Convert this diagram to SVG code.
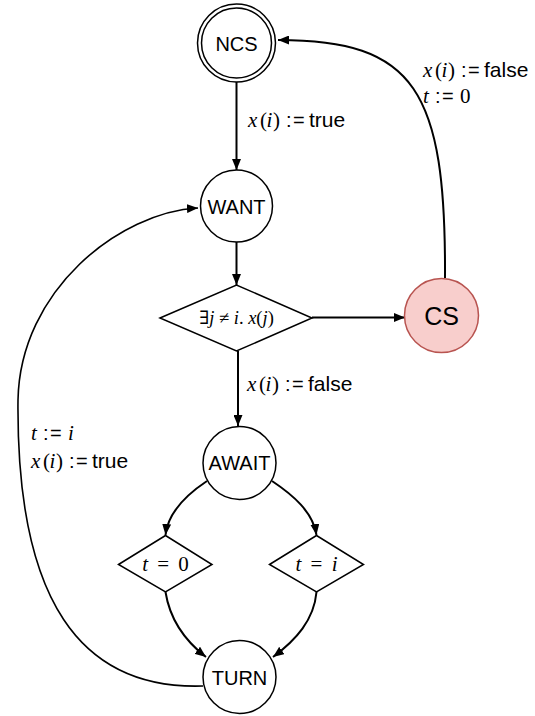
<svg xmlns="http://www.w3.org/2000/svg" width="535" height="716" viewBox="0 0 535 716">
<defs>
<marker id="arr" markerUnits="userSpaceOnUse" markerWidth="12" markerHeight="9" refX="11" refY="4.5" orient="auto">
<path d="M0,0 L11,4.5 L0,9 z" fill="#000"/>
</marker>
<style>
.node{fill:#fff;stroke:#000;stroke-width:1.5}
.cs{fill:#f8cecc;stroke:#b85450;stroke-width:1.5}
.dia{fill:#fff;stroke:#000;stroke-width:1.5}
.lbl{font-family:"Liberation Sans",Arial,sans-serif;font-size:20px;fill:#000;text-anchor:middle}
.edge{fill:none;stroke:#000;stroke-width:2;marker-end:url(#arr)}
.thin{stroke-width:1.6}
.m{font-family:"Liberation Serif","DejaVu Serif",serif;font-size:21px;fill:#000}
.mi{font-style:italic}
.op{font-family:"Liberation Sans",Arial,sans-serif;font-size:20px}
.s{font-family:"Liberation Sans",Arial,sans-serif;font-size:21px;font-style:normal}
.dm{font-family:"Liberation Serif","DejaVu Serif",serif;font-size:18.5px;fill:#000;text-anchor:middle}
</style>
</defs>
<rect width="535" height="716" fill="#fff"/>

<g id="connectors">
<path class="edge" d="M236.5,82 L236.5,170"/>
<path class="edge" d="M236.5,242 L236.5,285"/>
<path class="edge" d="M312,317.5 L405,317.5"/>
<path class="edge" d="M238,351 L238,426"/>
<path class="edge" d="M445,278 C446,90 415,40 278,40"/>
<path class="edge" d="M207,481 C186,495 168,512 165.5,535"/>
<path class="edge" d="M272,481 C293,495 313,512 316.5,535"/>
<path class="edge" d="M165.5,592 C170,620 184,640 206,657"/>
<path class="edge" d="M316.5,592 C314,620 296,640 273,657"/>
<path class="edge thin" d="M203,686 C80,690 16,600 18,400 C20,290 120,212 198,208"/>
</g>

<g id="node-ncs">
<circle class="node" cx="236.5" cy="43" r="39"/>
<circle class="node" cx="236.5" cy="43" r="35"/>
<text class="lbl" x="236.5" y="50.5">NCS</text>
</g>
<g id="node-want">
<circle class="node" cx="236.5" cy="206" r="36"/>
<text class="lbl" x="236.5" y="213.5">WANT</text>
</g>
<g id="node-check">
<polygon class="dia" points="160,318 236.5,285 312,318 236.5,351"/>
<text class="dm" x="236.5" y="324">∃<tspan class="mi">j</tspan> ≠ <tspan class="mi">i</tspan>. <tspan class="mi">x</tspan>(<tspan class="mi">j</tspan>)</text>
</g>
<g id="node-cs">
<circle class="cs" cx="441.5" cy="315.5" r="37"/>
<text class="lbl" x="441.5" y="324.5" style="font-size:25px">CS</text>
</g>
<g id="node-await">
<circle class="node" cx="239.5" cy="463" r="36.5"/>
<text class="lbl" x="239.5" y="470">AWAIT</text>
</g>
<g id="node-t0">
<polygon class="dia" points="118.5,564.5 165.5,535.5 212,564.5 165.5,592"/>
<text class="m" x="165.5" y="571" style="text-anchor:middle;font-size:21px;word-spacing:4px"><tspan class="mi">t</tspan> = 0</text>
</g>
<g id="node-ti">
<polygon class="dia" points="269.5,564.5 316.5,535.5 363.5,564.5 316.5,592"/>
<text class="m mi" x="316.5" y="571" style="text-anchor:middle;font-size:21px;word-spacing:4px">t <tspan style="font-style:normal">=</tspan> i</text>
</g>
<g id="node-turn">
<circle class="node" cx="239.5" cy="677" r="36.5"/>
<text class="lbl" x="239.5" y="684.5">TURN</text>
</g>

<g id="labels">
<text class="m" y="127"><tspan class="mi" x="248">x</tspan><tspan x="260">(</tspan><tspan class="mi" x="266.5">i</tspan><tspan x="273">)</tspan><tspan class="op" x="286">:</tspan><tspan class="op" x="293">=</tspan><tspan class="s" x="309">true</tspan></text>
<text class="m" y="77"><tspan class="mi" x="423">x</tspan><tspan x="435">(</tspan><tspan class="mi" x="441.5">i</tspan><tspan x="448">)</tspan><tspan class="op" x="461">:</tspan><tspan class="op" x="468">=</tspan><tspan class="s" x="484">false</tspan></text>
<text class="m" y="103"><tspan class="mi" x="423">t</tspan><tspan class="op" x="435">:</tspan><tspan class="op" x="442">=</tspan><tspan x="460">0</tspan></text>
<text class="m" y="391"><tspan class="mi" x="247">x</tspan><tspan x="259">(</tspan><tspan class="mi" x="265.5">i</tspan><tspan x="272">)</tspan><tspan class="op" x="285">:</tspan><tspan class="op" x="292">=</tspan><tspan class="s" x="308">false</tspan></text>
<text class="m" y="440"><tspan class="mi" x="31">t</tspan><tspan class="op" x="43">:</tspan><tspan class="op" x="50">=</tspan><tspan class="mi" x="68">i</tspan></text>
<text class="m" y="468"><tspan class="mi" x="31">x</tspan><tspan x="43">(</tspan><tspan class="mi" x="49.5">i</tspan><tspan x="56">)</tspan><tspan class="op" x="69">:</tspan><tspan class="op" x="76">=</tspan><tspan class="s" x="92">true</tspan></text>
</g>
</svg>
